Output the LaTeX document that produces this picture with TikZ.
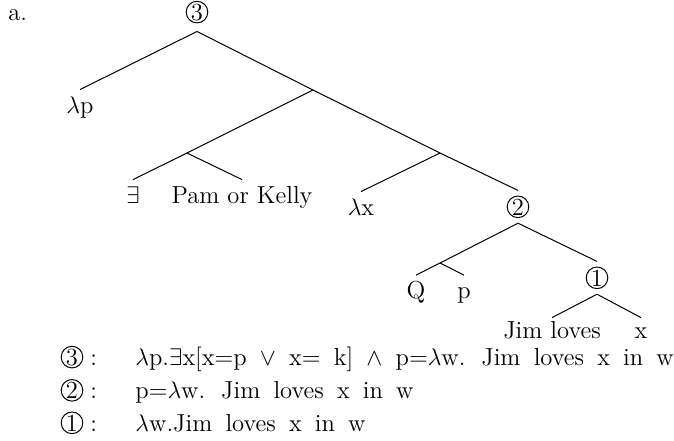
\documentclass[tikz,border=0pt]{standalone}
\newcommand{\widesp}{\spaceskip=6.6pt\relax}
\begin{document}
\tikzset{
  lbl/.style={anchor=base, inner xsep=0pt, inner ysep=3.2pt, text height=8.3pt},
  lbltight/.style={lbl, inner ysep=1.7pt},
  cnum/.style={circle, draw, line width=0.5pt, minimum size=10.8pt, inner sep=0pt, outer sep=2.8pt, anchor=base},
  edge/.style={line width=0.5pt},
  legend/.style={anchor=base west, inner sep=0pt},
}
\begin{tikzpicture}[x=0.5pt, y=-0.5pt, font=\fontsize{12.3}{14.8}\selectfont]
\useasboundingbox (0,0) rectangle (674,440);
% heading
\node[legend] (a) at (8,20) {a.};
% circled nodes of the tree
\node[cnum, outer sep=4.3pt] (c3) at (197,20) {3};
\node[cnum] (c2) at (518,215) {2};
\node[cnum] (c1) at (597,286) {1};
% junctions
\coordinate (j1) at (313,90);
\coordinate (j3) at (187,153);
\coordinate (j2) at (440,153);
\coordinate (j4) at (440,263);
% leaves
\node[lbl] (lp) at (80,113) {$\lambda$p};
\node[lbl] (ex) at (133,203) {$\exists$};
\node[lbl] (pk) at (242,203) {Pam or Kelly};
\node[lbl] (lx) at (361,215) {$\lambda$x};
\node[lbl] (q) at (416,298.5) {Q};
\node[lbl] (pp) at (464,298.5) {p};
\node[lbltight] (jl) at (552,338) {Jim loves};
\node[lbltight] (xx) at (641,338) {x};
% edges
\draw[edge] (c3.south) -- (lp.north);
\draw[edge] (c3.south) -- (j1) -- (j2) -- (c2.north);
\draw[edge] (j1) -- (j3);
\draw[edge] (j3) -- (ex.north);
\draw[edge] (j3) -- (pk.north);
\draw[edge] (j2) -- (lx.north);
\draw[edge] (c2.south) -- (j4);
\draw[edge] (c2.south) -- (c1.north);
\draw[edge] (j4) -- (q.north);
\draw[edge] (j4) -- (pp.north);
\draw[edge] (c1.south) -- (jl.north);
\draw[edge] (c1.south) -- (xx.north);
% legend
\node[cnum] (m3) at (72,365) {3};
\node[legend] (k3) at (90,365) {:};
\node[legend] (f3) at (135,365) {\widesp $\lambda$p.$\exists$x[x=p $\vee$ x= k] $\wedge$ p=$\lambda$w. Jim loves x in w};
\node[cnum] (m2) at (72,398.5) {2};
\node[legend] (k2) at (90,398.5) {:};
\node[legend] (f2) at (135,398.5) {\widesp p=$\lambda$w. Jim loves x in w};
\node[cnum] (m1) at (72,431) {1};
\node[legend] (k1) at (90,431) {:};
\node[legend] (f1) at (135,431) {\widesp $\lambda$w.Jim loves x in w};
\end{tikzpicture}
\end{document}
